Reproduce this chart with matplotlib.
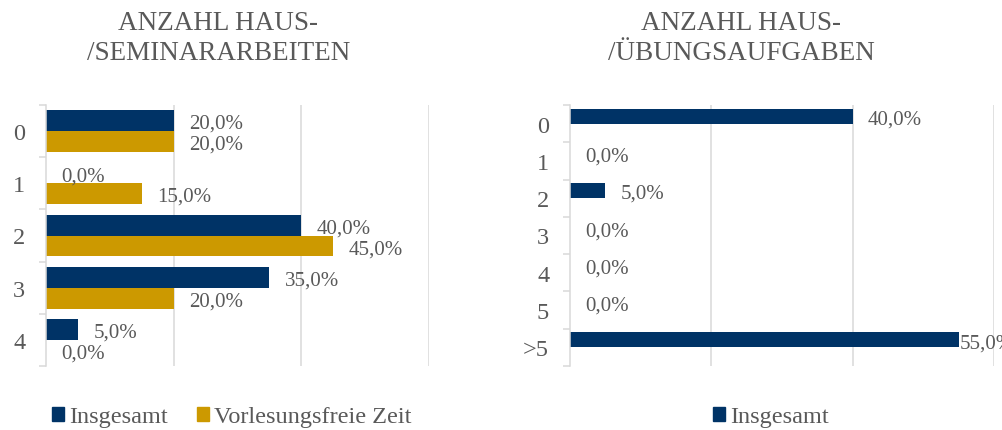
import matplotlib
matplotlib.use("Agg")
import matplotlib.pyplot as plt
from matplotlib.patches import Patch
import numpy as np

# ---- data ----
left_title = "ANZAHL HAUS-\n/SEMINARARBEITEN"
left_categories = ["0", "1", "2", "3", "4"]
left_insgesamt = [0.20, 0.00, 0.40, 0.35, 0.05]
left_vorlesungsfrei = [0.20, 0.15, 0.45, 0.20, 0.00]

right_title = "ANZAHL HAUS-\n/ÜBUNGSAUFGABEN"
right_categories = ["0", "1", "2", "3", "4", "5", ">5"]
right_insgesamt = [0.40, 0.00, 0.05, 0.00, 0.00, 0.00, 0.55]

series_names = ["Insgesamt", "Vorlesungsfreie Zeit"]

# ---- style ----
NAVY = "#003366"
GOLD = "#CC9900"
TXT = "#595959"
GRID = "#D9D9D9"
FONT = "Liberation Serif"
plt.rcParams["font.family"] = [FONT, "DejaVu Serif"]

W, H = 1002, 431
fig = plt.figure(figsize=(W / 100, H / 100), dpi=100)


def px_axes(x0, x1, y0, y1):
    return fig.add_axes([x0 / W, (H - y1) / H, (x1 - x0) / W, (y1 - y0) / H])


def fmt(v):
    return f"{v * 100:.1f}".replace(".", ",") + "%"


def style_axes(ax, cats):
    n = len(cats)
    ax.set_xlim(0, 0.6)
    ax.set_ylim(n - 0.5, -0.5)
    ax.set_xticks([0.2, 0.4, 0.6])
    ax.tick_params(axis="x", length=0, labelbottom=False)
    ax.grid(axis="x", color=GRID, linewidth=1.1)
    ax.set_axisbelow(True)
    for s in ["top", "right", "bottom"]:
        ax.spines[s].set_visible(False)
    ax.spines["left"].set_color(GRID)
    ax.spines["left"].set_linewidth(1.1)
    ax.set_yticks(np.arange(n + 1) - 0.5)
    ax.set_yticklabels([])
    ax.tick_params(axis="y", which="major", length=5, width=1.1, color=GRID)
    ax.set_yticks(np.arange(n), minor=True)
    ax.set_yticklabels(cats, minor=True, fontsize=17.5, color=TXT)
    ax.tick_params(axis="y", which="minor", length=0, pad=15)


def label_bars(ax, bars, vals):
    for b, v in zip(bars, vals):
        y = b.get_y() + b.get_height() / 2
        off = 11 if v < 0.5 else 1
        ax.annotate(fmt(v), (v, y), xytext=(off, -2), textcoords="offset points",
                    ha="left", va="center", fontsize=15, color=TXT,
                    annotation_clip=False)


# ---- left chart ----
axL = px_axes(46, 429, 106, 367)
y = np.arange(len(left_categories))
b1 = axL.barh(y - 0.2, left_insgesamt, height=0.4, color=NAVY)
b2 = axL.barh(y + 0.2, left_vorlesungsfrei, height=0.4, color=GOLD)
style_axes(axL, left_categories)
label_bars(axL, b1, left_insgesamt)
label_bars(axL, b2, left_vorlesungsfrei)

# ---- right chart ----
axR = px_axes(570, 994, 106, 367)
yr = np.arange(len(right_categories))
b3 = axR.barh(yr - 0.2, right_insgesamt, height=0.4, color=NAVY)
style_axes(axR, right_categories)
label_bars(axR, b3, right_insgesamt)

# ---- titles ----
fig.text(218.5 / W, 1 - 38.5 / H, left_title, ha="center", va="center",
         fontsize=19.5, color=TXT, linespacing=1.25)
fig.text(741 / W, 1 - 38.5 / H, right_title, ha="center", va="center",
         fontsize=19.5, color=TXT, linespacing=1.25)

# ---- legends ----
fig.legend(handles=[Patch(color=NAVY, label=series_names[0]),
                    Patch(color=GOLD, label=series_names[1])],
           loc="center left", bbox_to_anchor=(52 / W, 1 - 418 / H),
           ncol=2, frameon=False, fontsize=17.5, labelcolor=TXT,
           handlelength=0.5, handleheight=0.5, handletextpad=0.2,
           columnspacing=1.2, borderpad=0, borderaxespad=0)
fig.legend(handles=[Patch(color=NAVY, label=series_names[0])],
           loc="center left", bbox_to_anchor=(713 / W, 1 - 418 / H),
           ncol=1, frameon=False, fontsize=17.5, labelcolor=TXT,
           handlelength=0.5, handleheight=0.5, handletextpad=0.2,
           borderpad=0, borderaxespad=0)

fig.savefig("out.png", dpi=100)
